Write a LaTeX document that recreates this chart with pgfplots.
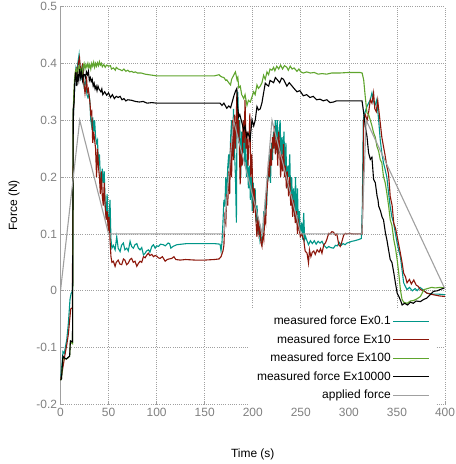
\documentclass[border=0pt]{standalone}
\usepackage{fontspec}
\setmainfont{Liberation Sans}
\usepackage{pgfplots}
\pgfplotsset{compat=1.18}

\definecolor{exteal}{RGB}{0,150,136}
\definecolor{exred}{RGB}{140,22,10}
\definecolor{exgreen}{RGB}{95,165,45}
\definecolor{exgray}{RGB}{160,160,160}
\definecolor{ticktext}{RGB}{128,128,128}

\newcommand{\chartfont}{\fontsize{12}{14}\selectfont}

\begin{document}
\begin{tikzpicture}
\useasboundingbox (-60.5bp,-59.5bp) rectangle (395.5bp,404.5bp);
\begin{axis}[
    at={(0,0)}, anchor=south west,
    scale only axis,
    width=384.5bp, height=398bp,
    xmin=0, xmax=400, ymin=-0.2, ymax=0.5,
    xtick={0,50,...,400},
    ytick={-0.2,-0.1,0,0.1,0.2,0.3,0.4,0.5},
    yticklabels={-0.2,-0.1,0,0.1,0.2,0.3,0.4,0.5},
    /pgf/number format/assume math mode=true,
    tick label style={text=ticktext, font=\chartfont},
    axis lines=left,
    axis line style={-, exgray, line width=0.8bp},
    x axis line style={draw=none},
    tick align=inside,
    major tick length=4bp,
    tick style={exgray, line width=0.8bp},
    grid=major,
    grid style={exgray, line width=0.7bp, dash pattern=on 1bp off 1.2bp},
    xlabel={Time (s)},
    ylabel={Force (N)},
    every axis x label/.style={at={(axis description cs:0.5,0)}, anchor=center, yshift=-50bp, font=\chartfont},
    every axis y label/.style={at={(axis description cs:0,0.5)}, xshift=-46.5bp, anchor=center, rotate=90, font=\chartfont},
    legend cell align=right,
    legend plot pos=right,
    legend image code/.code={\draw[#1] (0bp,0bp) -- (36bp,0bp);},
    legend style={at={(1,0)}, anchor=south east, xshift=-10bp, yshift=-3bp,
        draw=none, fill=white, row sep=4.4bp, inner sep=5bp, font=\chartfont},
    every axis plot/.append style={line width=1.1bp},
]

% measured force Ex0.1
\addplot[exteal] coordinates {
(0,-0.157) (1.5,-0.13) (2.6,-0.107) (4,-0.11) (5,-0.1) (6.5,-0.086) (8.2,-0.057) (9.9,-0.015) (11,-0.005) (12.5,0.0)
(13.3,0.3) (15,0.37) (16,0.39) (17,0.38) (18,0.4) (19.3,0.415) (20.5,0.38) (21.5,0.39) (22.5,0.37) (23.5,0.395)
(24.5,0.36) (25.5,0.365) (26.5,0.37) (27.5,0.345) (28.5,0.34) (29.5,0.345) (30.5,0.335) (31.5,0.3) (32.5,0.29)
(33.5,0.305) (34.5,0.28) (35.5,0.30) (36.5,0.27) (37.5,0.26) (38.5,0.265) (39.5,0.22) (40.5,0.24) (41.5,0.2)
(42.5,0.18) (43.5,0.215) (44.5,0.19) (45.5,0.21) (46.5,0.15) (47.5,0.13) (48.5,0.17) (49.5,0.12) (50.5,0.125)
(51.5,0.16) (52.5,0.09) (53.5,0.075) (55,0.08) (56.8,0.072) (58.5,0.095) (60,0.075) (62,0.069) (63.5,0.08)
(65.4,0.084) (67,0.072) (69,0.075) (70.5,0.07) (72.4,0.087) (74,0.078) (75.8,0.075) (77.5,0.081) (79.4,0.083)
(81,0.075) (82.8,0.072) (84.5,0.076) (86.3,0.063) (88,0.066) (89.5,0.07) (91.5,0.072) (93,0.068) (95,0.078)
(96.7,0.081) (98.5,0.075) (100,0.079) (102,0.078) (104,0.082) (107,0.081) (109,0.079) (112,0.084) (113.5,0.083)
(114.8,0.075) (117,0.078) (121,0.081) (126,0.082) (131.5,0.083) (140,0.083) (150,0.083) (160,0.083) (166,0.082)
(167,0.07) (168,0.085) (169,0.12) (170,0.16) (171,0.148) (172,0.2) (173,0.17) (174,0.218) (175,0.24) (176,0.2)
(177,0.27) (178,0.30) (179,0.26) (180,0.32) (181,0.25) (182,0.2) (183,0.12) (183.7,0.33) (184.5,0.35) (185.5,0.26)
(186.5,0.3) (187.5,0.2) (188.5,0.28) (189.5,0.24) (190.5,0.3) (191.5,0.22) (192.5,0.27) (193.5,0.2) (194.5,0.23)
(195.5,0.18) (196.5,0.22) (197.5,0.16) (198.5,0.2) (199.5,0.14) (200.5,0.19) (201.5,0.15) (202.5,0.18) (203.5,0.12)
(204.5,0.15) (205.5,0.1) (206.5,0.12) (207.5,0.09) (208.5,0.1) (209.5,0.08) (210.5,0.1) (211.5,0.14) (212.5,0.12)
(213.5,0.17) (214.5,0.15) (215.5,0.21) (216.5,0.2) (217.5,0.24) (218.5,0.19) (219.5,0.26) (220.5,0.23) (221.5,0.28)
(222.5,0.25) (223.5,0.3) (224.5,0.26) (225.5,0.3) (226.5,0.24) (227.5,0.28) (228.5,0.3) (229.5,0.22) (230.5,0.27)
(231.5,0.24) (232.5,0.28) (233.5,0.2) (234.5,0.26) (235.5,0.18) (236.5,0.22) (237.5,0.2) (238.5,0.24) (239.5,0.16)
(240.5,0.2) (241.5,0.14) (242.5,0.18) (243.5,0.13) (244.5,0.2) (245.5,0.12) (246.5,0.18) (247.5,0.11) (248.5,0.14)
(249.5,0.1) (251,0.12) (252,0.09) (253,0.137) (254,0.09) (255,0.095) (256,0.09) (258,0.081) (260,0.088) (262,0.083)
(264,0.088) (266,0.082) (268,0.087) (270,0.084) (272,0.087) (274,0.08) (277,0.075) (279,0.078) (281,0.076)
(284,0.075) (286,0.08) (288,0.079) (290,0.085) (292,0.08) (294,0.083) (296,0.081) (298,0.084) (300,0.085)
(303,0.087) (306,0.088) (310,0.09) (313,0.092) (314,0.15) (315,0.3) (316,0.31) (318.8,0.324) (320.5,0.33)
(322.3,0.336) (324,0.348) (325.5,0.335) (327,0.325) (329,0.336) (331,0.3) (332.6,0.266) (334.3,0.242) (336,0.225)
(337.5,0.215) (339.5,0.2) (341.3,0.172) (343,0.148) (344.7,0.13) (346.5,0.12) (348.5,0.1) (350.2,0.084) (352,0.07)
(353.6,0.06) (355.3,0.037) (357,0.014) (360.5,0.002) (363,0.006) (366,0.0) (369,0.004) (371,0.0) (374,0.006)
(377,0.002) (381,-0.004) (388,-0.006) (394,-0.006) (400,-0.007)
};
\addlegendentry{measured force Ex0.1}

% measured force Ex10
\addplot[exred] coordinates {
(0,-0.157) (2,-0.14) (4.6,-0.113) (6.5,-0.095) (8.2,-0.076) (10.6,-0.032) (12.3,-0.03) (13.3,0.3) (14.5,0.36)
(15.5,0.385) (16.5,0.39) (17.5,0.37) (18.5,0.4) (19.8,0.41) (20.5,0.395) (21.5,0.39) (22.3,0.38) (23,0.40) (24,0.37)
(25.5,0.347) (26.5,0.36) (27,0.377) (28,0.35) (29,0.355) (30.7,0.33) (31.5,0.31) (32.5,0.315) (33.5,0.26)
(34.5,0.28) (35.5,0.265) (36.5,0.25) (37.5,0.2) (38.5,0.25) (39.5,0.218) (40.5,0.2) (41.5,0.17) (42.5,0.21)
(43.5,0.166) (44.5,0.15) (45.5,0.19) (46.3,0.154) (47.5,0.125) (48.5,0.14) (49.8,0.105) (50.5,0.13) (51.5,0.09)
(52.5,0.06) (53.5,0.05) (55,0.052) (56.8,0.043) (58,0.05) (60,0.054) (61.8,0.047) (63.7,0.046) (65.5,0.056)
(67,0.054) (68.8,0.046) (70.6,0.049) (72.3,0.055) (74,0.057) (75.7,0.05) (77.5,0.052) (79.4,0.043) (81,0.048)
(82.8,0.052) (84.5,0.05) (86.3,0.06) (88,0.058) (89.8,0.063) (91.5,0.066) (93,0.062) (95,0.064) (96.7,0.06)
(98.5,0.062) (100,0.061) (101.8,0.058) (103.6,0.057) (106,0.06) (108.9,0.052) (111,0.055) (113,0.056) (115.8,0.057)
(118,0.06) (120,0.055) (124.5,0.054) (130,0.055) (140,0.054) (150,0.054) (160,0.055) (165,0.056) (167,0.06)
(168,0.065) (169,0.07) (170,0.08) (171,0.13) (172,0.12) (173,0.17) (174,0.15) (175,0.21) (176,0.17) (177,0.26)
(178,0.2) (179,0.3) (180,0.23) (181,0.31) (182,0.25) (183.5,0.347) (184.5,0.27) (185.5,0.3) (186.9,0.187) (188,0.25)
(189,0.22) (190,0.3) (191,0.26) (192,0.336) (193,0.25) (194,0.28) (195,0.22) (196,0.26) (197,0.312) (198,0.2)
(199,0.24) (200.8,0.137) (201.5,0.18) (202.5,0.15) (203.5,0.12) (204.3,0.095) (205.5,0.13) (206.5,0.1) (207.5,0.11)
(208.5,0.085) (209.6,0.078) (210.5,0.1) (211.5,0.09) (212.5,0.13) (213.5,0.12) (214.5,0.17) (215.5,0.19)
(216.5,0.23) (217.5,0.2) (218.5,0.25) (219.5,0.22) (220.5,0.27) (221.5,0.25) (222.5,0.29) (223.5,0.24) (225,0.27)
(226,0.22) (227,0.28) (228,0.25) (229,0.2) (230,0.24) (231,0.21) (232,0.258) (233,0.2) (234,0.22) (235,0.18)
(236,0.21) (237.3,0.166) (238.5,0.2) (239.5,0.15) (240.5,0.17) (241.5,0.13) (242.5,0.16) (244.3,0.119) (245.5,0.14)
(246.5,0.1) (247.5,0.12) (249.5,0.095) (251,0.1) (253,0.09) (254.5,0.07) (256.5,0.066) (258,0.049) (259,0.072)
(260.5,0.06) (262,0.068) (263.5,0.07) (265,0.064) (267,0.072) (269,0.068) (270.5,0.074) (272,0.066) (273.9,0.081)
(275.6,0.084) (277,0.09) (279,0.101) (280.5,0.1) (282.3,0.104) (284,0.103) (286,0.098) (287.5,0.1) (289.5,0.081)
(291,0.078) (292.5,0.085) (294.6,0.098) (296.5,0.101) (298,0.1) (300.6,0.101) (305,0.1) (310,0.1) (313.7,0.1)
(314.5,0.15) (315.5,0.3) (317,0.31) (319,0.3) (320.5,0.313) (322.3,0.336) (324,0.33) (325.7,0.348) (327,0.32)
(328.5,0.315) (330,0.335) (331,0.32) (332.6,0.296) (334.3,0.27) (336,0.254) (337.5,0.24) (339.5,0.219)
(341.3,0.205) (343,0.166) (345,0.15) (346.7,0.119) (348.5,0.11) (350.2,0.096) (352,0.08) (353.6,0.066) (355.3,0.05)
(357,0.031) (358.8,0.025) (360.5,0.014) (363,0.02) (365,0.012) (367.5,0.019) (370,0.01) (372,0.008) (374.5,0.002)
(378,0.0) (381,-0.004) (385,-0.006) (388,-0.007) (394,-0.009) (400,-0.01)
};
\addlegendentry{measured force Ex10}

% measured force Ex100
\addplot[exgreen] coordinates {
(0,-0.157) (1,-0.155) (2.5,-0.12) (4,-0.118) (6,-0.12) (8,-0.118) (9.5,-0.115) (10.3,-0.09) (12.5,-0.093)
(13.3,0.32) (14.5,0.37) (15.5,0.385) (16.5,0.39) (17.5,0.38) (18.5,0.39) (19.5,0.395) (20.5,0.385) (21.5,0.39)
(22.5,0.38) (23.5,0.395) (24.5,0.4) (25.5,0.39) (26.5,0.398) (27.5,0.393) (28.5,0.4) (29.5,0.392) (30.5,0.398)
(31.5,0.39) (32.5,0.4) (33.5,0.395) (34.5,0.402) (35.5,0.393) (36.5,0.4) (37.5,0.395) (38.5,0.401) (39.5,0.396)
(40.5,0.403) (41.5,0.397) (42.5,0.4) (43.5,0.394) (45,0.398) (46.5,0.393) (48,0.397) (50,0.395) (52,0.396)
(53,0.39) (55,0.392) (57,0.388) (58,0.393) (60,0.39) (62,0.389) (64,0.387) (66,0.39) (68,0.386) (70,0.388)
(72,0.385) (74,0.386) (76,0.384) (78,0.385) (80,0.383) (84,0.383) (88,0.381) (92,0.38) (96,0.379) (100,0.378)
(120,0.378) (140,0.378) (160,0.378) (165,0.38) (166,0.378) (168,0.376) (170,0.375) (172,0.37) (173,0.371)
(175,0.366) (176.9,0.362) (178,0.372) (180.4,0.38) (182,0.385) (183.7,0.371) (184.5,0.375) (185.5,0.357) (187,0.36)
(188.5,0.345) (190.6,0.338) (192,0.345) (194,0.326) (195.5,0.335) (197.5,0.332) (199,0.34) (201,0.35)
(202.5,0.345) (204.4,0.362) (206,0.356) (207.8,0.36) (209.6,0.366) (211.3,0.379) (213,0.372) (214.8,0.385)
(216.5,0.38) (218,0.39) (220,0.388) (221.7,0.393) (223,0.387) (225,0.395) (227,0.39) (229,0.397) (231,0.39)
(233,0.396) (235.5,0.393) (237,0.388) (239,0.395) (241,0.39) (243,0.392) (246,0.386) (248,0.39) (250,0.385)
(252.6,0.383) (256,0.385) (260,0.383) (264,0.384) (268,0.381) (272,0.382) (276.9,0.381) (282,0.383) (290,0.383)
(300,0.384) (311.4,0.384) (313.8,0.383) (315.4,0.371) (317,0.342) (318.8,0.313) (320.5,0.31) (322.3,0.30)
(324,0.29) (325.7,0.278) (327.5,0.27) (329.2,0.254) (331,0.245) (332.6,0.231) (334.3,0.225) (336,0.201)
(337.8,0.19) (339.5,0.172) (341.3,0.15) (343,0.125) (344.8,0.115) (346.7,0.09) (348.5,0.075) (350.2,0.055)
(351.9,0.031) (353.6,0.002) (355.3,-0.015) (357,-0.02) (360.6,-0.022) (364,-0.018) (367.5,-0.017) (371,-0.014)
(374.5,-0.01) (376,-0.005) (378,0.002) (382,0.004) (386,0.006) (390,0.005) (395,0.006) (400,0.005)
};
\addlegendentry{measured force Ex100}

% measured force Ex10000
\addplot[black] coordinates {
(0,-0.157) (1,-0.155) (2.5,-0.115) (4,-0.118) (6,-0.12) (8,-0.117) (9.5,-0.115) (10.3,-0.088) (12.5,-0.09)
(13.3,0.32) (14,0.33) (15,0.37) (16,0.385) (17,0.36) (18,0.38) (19,0.37) (20,0.39) (21,0.375) (22,0.385) (23,0.37)
(24,0.38) (25,0.38) (26,0.375) (27,0.385) (28,0.38) (29,0.386) (30,0.37) (31,0.375) (32,0.368) (33,0.372) (34,0.36)
(35,0.365) (36,0.355) (37,0.36) (38,0.352) (39,0.36) (40,0.355) (42,0.35) (43,0.355) (44,0.345) (46,0.35)
(48,0.344) (50,0.348) (52,0.34) (54,0.345) (56,0.338) (58,0.342) (60,0.34) (62,0.342) (64,0.336) (66,0.338)
(68,0.334) (70,0.336) (74,0.335) (78,0.333) (82,0.332) (86,0.333) (90,0.33) (95,0.331) (100,0.33) (120,0.33)
(140,0.33) (160,0.33) (164,0.33) (166,0.33) (168,0.326) (170,0.33) (173,0.321) (175,0.325) (177,0.322)
(180.4,0.343) (182,0.351) (183.5,0.356) (184,0.33) (185.3,0.306) (186.5,0.31) (188.8,0.295) (190.5,0.283)
(192,0.29) (193.6,0.271) (195,0.278) (197.3,0.266) (199.2,0.301) (201,0.29) (202.6,0.3) (204.4,0.324) (206,0.318)
(207.8,0.32) (209.5,0.33) (211.3,0.348) (213,0.365) (214.8,0.362) (216.5,0.36) (218,0.37) (221.7,0.366)
(223.5,0.375) (225.2,0.372) (228,0.366) (230,0.374) (232,0.372) (235.5,0.36) (238,0.366) (242.4,0.357)
(246,0.35) (249,0.352) (252.6,0.343) (256,0.345) (259.5,0.34) (263,0.342) (266.5,0.336) (270,0.337) (273.4,0.334)
(277,0.336) (280.3,0.331) (284,0.332) (287,0.334) (292,0.334) (297.5,0.334) (305,0.334) (311.4,0.334)
(313.7,0.334) (315.4,0.313) (317,0.29) (318.8,0.272) (320.5,0.243) (322.3,0.231) (324,0.235) (325.7,0.196)
(327.5,0.19) (329.4,0.166) (330.3,0.16) (331,0.149) (333,0.14) (334.5,0.13) (336,0.125) (338,0.102) (339.5,0.09)
(341.3,0.072) (343,0.055) (344.8,0.05) (346.7,0.032) (348.4,0.014) (350.2,-0.004) (352,-0.01) (354,-0.018)
(355.4,-0.025) (358,-0.022) (361,-0.025) (364,-0.02) (367,-0.022) (370,-0.018) (374.5,-0.019) (378,-0.015)
(381,-0.013) (384,-0.008) (388,-0.001) (392,0.0) (396,0.003) (400,0.005)
};
\addlegendentry{measured force Ex10000}

% applied force
\addplot[exgray] coordinates {
(0,0) (20,0.3) (50,0.1) (170,0.1) (180,0.3) (210,0.1) (220,0.3) (250,0.1) (313.5,0.1) (318,0.3) (400,0.003)
};
\addlegendentry{applied force}

\end{axis}
\end{tikzpicture}
\end{document}
